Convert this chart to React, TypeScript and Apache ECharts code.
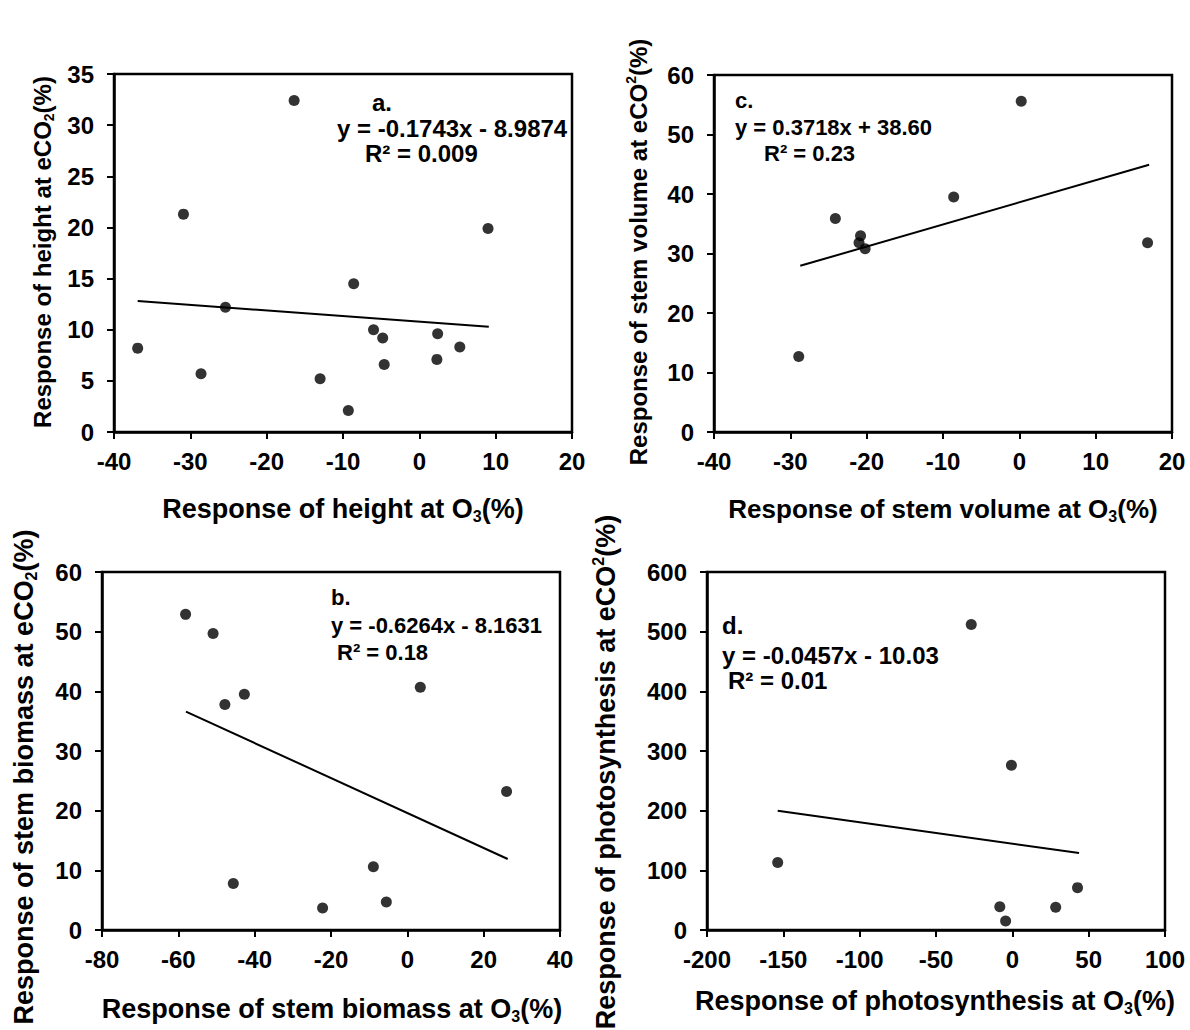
import React, { useEffect, useRef } from "react";
import * as echarts from "echarts";

const FONT = "'Liberation Sans', Arial, Helvetica, sans-serif";

// a. height
const heightO3 = [-36.9, -30.9, -28.6, -25.4, -16.4, -13.0, -9.3, -8.6, -6.0, -4.8, -4.6, 2.4, 2.3, 5.3, 9.0];
const heightCO2 = [8.2, 21.3, 5.7, 12.2, 32.4, 5.2, 2.1, 14.5, 10.0, 9.2, 6.6, 9.6, 7.1, 8.3, 19.9];
const heightFitX = [-36.9, 9.1];
const heightFitY = [12.8, 10.3];

// b. stem biomass
const biomassO3 = [-58.1, -50.9, -47.8, -42.7, -45.6, -22.2, -8.9, -5.5, 3.4, 26.0];
const biomassCO2 = [52.9, 49.7, 37.8, 39.5, 7.8, 3.7, 10.6, 4.7, 40.7, 23.2];
const biomassFitX = [-58.0, 26.3];
const biomassFitY = [36.6, 11.9];

// c. stem volume
const volumeO3 = [-28.9, -24.1, -20.8, -21.0, -20.2, -8.6, 0.25, 16.8];
const volumeCO2 = [12.7, 35.9, 33.0, 31.8, 30.8, 39.5, 55.6, 31.8];
const volumeSlope = 0.3718;
const volumeIntercept = 38.6;
const volumeFitX = [-28.7, 17.0];

// d. photosynthesis
const photoO3 = [-153.7, -26.9, -0.6, -8.2, -4.4, 28.4, 42.7];
const photoCO2 = [113, 512, 276, 39, 15, 38, 71];
const photoFitX = [-153.7, 43.7];
const photoFitY = [200, 129];

// axis ranges: [min, max, interval]
const heightXRange = [-40, 20, 10];
const heightYRange = [0, 35, 5];
const biomassXRange = [-80, 40, 20];
const biomassYRange = [0, 60, 10];
const volumeXRange = [-40, 20, 10];
const volumeYRange = [0, 60, 10];
const photoXRange = [-200, 100, 50];
const photoYRange = [0, 600, 100];

const zip = (xs: number[], ys: number[]) => xs.map((x, i) => [x, ys[i]]);

const grids = [
  { left: 114, top: 74, width: 458, height: 358 }, // a
  { left: 714, top: 75, width: 458, height: 357 }, // c
  { left: 102, top: 572, width: 458, height: 358 }, // b
  { left: 707, top: 572, width: 458, height: 358 }, // d
];

function xAxis(gridIndex: number, r: number[]) {
  return {
    type: "value",
    gridIndex,
    min: r[0],
    max: r[1],
    interval: r[2],
    axisLine: { show: true, onZero: false, lineStyle: { color: "#000", width: 2.5 } },
    axisTick: { show: true, length: 7, lineStyle: { color: "#000", width: 2 } },
    axisLabel: { color: "#000", fontSize: 24, fontWeight: "bold", fontFamily: FONT, margin: 17 },
    splitLine: { show: false },
  };
}

function yAxis(gridIndex: number, r: number[]) {
  return {
    type: "value",
    gridIndex,
    min: r[0],
    max: r[1],
    interval: r[2],
    axisLine: { show: true, onZero: false, lineStyle: { color: "#000", width: 2.5 } },
    axisTick: { show: true, length: 7, lineStyle: { color: "#000", width: 2 } },
    axisLabel: { color: "#000", fontSize: 24, fontWeight: "bold", fontFamily: FONT, margin: 20 },
    splitLine: { show: false },
  };
}

function dots(i: number, xs: number[], ys: number[]) {
  return {
    type: "scatter",
    xAxisIndex: i,
    yAxisIndex: i,
    data: zip(xs, ys),
    symbol: "circle",
    symbolSize: 11,
    itemStyle: { color: "#000" },
    z: 3,
  };
}

function fit(i: number, xs: number[], ys: number[]) {
  return {
    type: "line",
    xAxisIndex: i,
    yAxisIndex: i,
    data: zip(xs, ys),
    symbol: "none",
    lineStyle: { color: "#000", width: 2 },
    z: 2,
  };
}

function label(x: number, y: number, text: string, size: number) {
  return {
    type: "text",
    x,
    y,
    style: {
      text,
      fill: "#000",
      fontSize: size,
      fontWeight: "bold",
      fontFamily: FONT,
      align: "left",
      verticalAlign: "middle",
    },
  };
}

function richStyles(size: number) {
  return {
    m: { fontSize: size, fontWeight: "bold", fontFamily: FONT, fill: "#000", lineHeight: size + 4 },
    sub: { fontSize: Math.round(size * 0.6), fontWeight: "bold", fontFamily: FONT, fill: "#000", verticalAlign: "bottom", lineHeight: Math.round(size * 0.6) },
    sup: { fontSize: Math.round(size * 0.6), fontWeight: "bold", fontFamily: FONT, fill: "#000", verticalAlign: "top", lineHeight: Math.round(size * 0.6) },
  };
}

function title(x: number, y: number, text: string, size: number, rotated: boolean) {
  return {
    type: "text",
    x,
    y,
    rotation: rotated ? Math.PI / 2 : 0,
    style: {
      text,
      rich: richStyles(size),
      fill: "#000",
      fontSize: size,
      fontWeight: "bold",
      fontFamily: FONT,
      align: "center",
      verticalAlign: "middle",
    },
  };
}

export default function App() {
  const ref = useRef<HTMLDivElement>(null);

  useEffect(() => {
    if (!ref.current) return;
    const chart = echarts.init(ref.current, null, { renderer: "svg" });
    const volumeFitY = volumeFitX.map((x) => volumeSlope * x + volumeIntercept);

    chart.setOption({
      animation: false,
      backgroundColor: "#fff",
      grid: grids.map((g) => ({ ...g, show: true, borderColor: "#000", borderWidth: 2.5, backgroundColor: "transparent" })),
      xAxis: [xAxis(0, heightXRange), xAxis(1, volumeXRange), xAxis(2, biomassXRange), xAxis(3, photoXRange)],
      yAxis: [yAxis(0, heightYRange), yAxis(1, volumeYRange), yAxis(2, biomassYRange), yAxis(3, photoYRange)],
      series: [
        fit(0, heightFitX, heightFitY),
        dots(0, heightO3, heightCO2),
        fit(1, volumeFitX, volumeFitY),
        dots(1, volumeO3, volumeCO2),
        fit(2, biomassFitX, biomassFitY),
        dots(2, biomassO3, biomassCO2),
        fit(3, photoFitX, photoFitY),
        dots(3, photoO3, photoCO2),
      ],
      graphic: [
        // regression annotations
        label(372, 102, "a.", 24),
        label(337, 128, "y = -0.1743x - 8.9874", 24),
        label(365, 153, "R² = 0.009", 24),
        label(735, 100, "c.", 22),
        label(735, 127, "y = 0.3718x + 38.60", 22),
        label(764, 153, "R² = 0.23", 22),
        label(331, 597, "b.", 22),
        label(331, 625, "y = -0.6264x - 8.1631", 22),
        label(337, 652, "R² = 0.18", 22),
        label(722, 625, "d.", 24),
        label(722, 655, "y = -0.0457x - 10.03", 24),
        label(728, 680, "R² = 0.01", 24),
        // axis titles
        title(343, 509, "{m|Response of height at O}{sub|3}{m|(%)}", 27, false),
        title(943, 509, "{m|Response of stem volume at O}{sub|3}{m|(%)}", 26, false),
        title(332, 1009, "{m|Response of stem biomass at O}{sub|3}{m|(%)}", 27, false),
        title(935, 1001, "{m|Response of photosynthesis at O}{sub|3}{m|(%)}", 27, false),
        title(42, 252, "{m|Response of height at eCO}{sub|2}{m|(%)}", 24, true),
        title(638, 252, "{m|Response of stem volume at eCO}{sup|2}{m|(%)}", 24, true),
        title(24, 777, "{m|Response of stem biomass at eCO}{sub|2}{m|(%)}", 27, true),
        title(606, 772, "{m|Response of photosynthesis at eCO}{sup|2}{m|(%)}", 27, true),
      ],
    });
    return () => chart.dispose();
  }, []);

  return (
    <div
      ref={ref}
      style={{ position: "absolute", left: 0, top: 0, width: 1190, height: 1030, background: "#fff" }}
    />
  );
}
